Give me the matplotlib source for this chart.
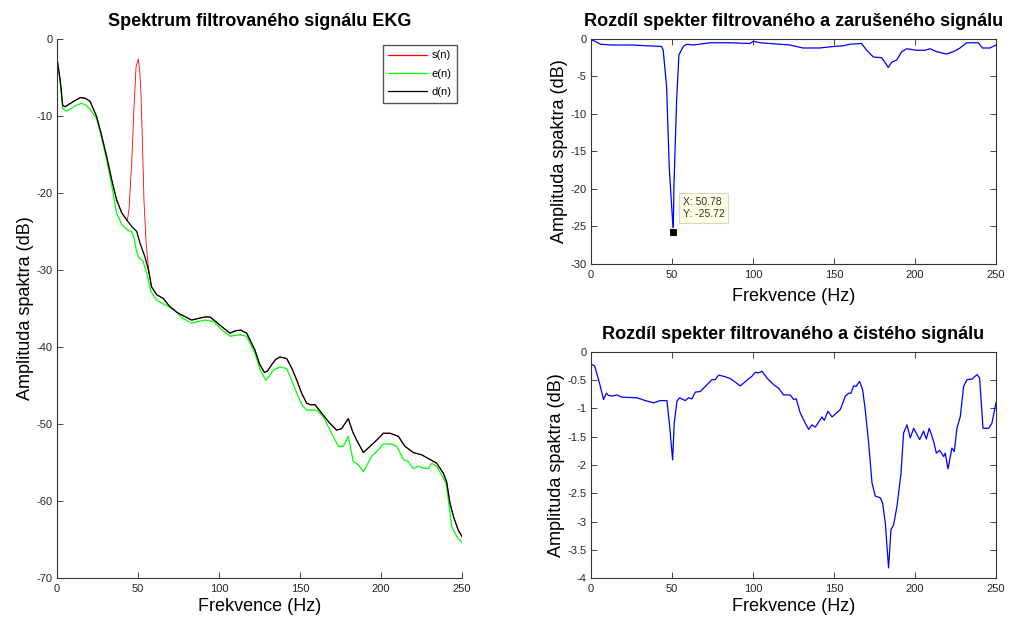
import matplotlib
matplotlib.use("Agg")
import matplotlib.pyplot as plt
import numpy as np

plt.rcParams['font.family'] = ['Liberation Sans', 'DejaVu Sans']
plt.rcParams['axes.unicode_minus'] = False

# --- spectrum of the filtered ECG signal (dB) ---
d_f = [0, 2, 3.5, 5, 8, 11, 14.6, 17.5, 20.4, 24.5, 27.5, 30.7, 33.8, 36.8, 40, 43.4,
       46, 49.2, 51.2, 54.3, 56.4, 58.4, 61.5, 65.6, 69.8, 74, 78.5, 83.1, 87, 91.4,
       94.5, 98, 102, 106.8, 110, 113.4, 117.1, 122.2, 125, 128, 130, 132.5, 135,
       137.7, 141.8, 145, 148, 151, 154.1, 156.5, 159.3, 163.4, 168, 172.6, 175.7,
       179.8, 182.5, 185, 189.1, 193.2, 197.3, 201.4, 205.6, 210.7, 214.8, 219.9,
       225.1, 230.2, 234.4, 238.5, 240.5, 242.6, 244.7, 247.7, 250]
d_db = [-2.5, -5.4, -8.6, -8.8, -8.4, -8.0, -7.6, -7.7, -8.1, -10.1, -12.5, -15.3,
        -18.3, -20.9, -22.6, -23.6, -24.3, -25.0, -26.5, -28.3, -30.0, -32.2, -33.2,
        -33.7, -34.8, -35.5, -36.0, -36.5, -36.3, -36.1, -36.1, -36.7, -37.4, -38.2,
        -37.9, -37.8, -38.2, -40.4, -42.2, -43.3, -43.1, -42.3, -41.6, -41.3, -41.5,
        -42.8, -44.3, -46.0, -47.3, -47.5, -47.5, -48.6, -49.8, -50.8, -50.6, -49.3,
        -51.0, -52.1, -53.7, -52.9, -52.1, -51.2, -51.2, -51.6, -52.9, -53.7, -54.0,
        -54.6, -55.1, -56.4, -57.5, -60.3, -62.0, -63.8, -64.6]

# --- spectrum of the clean ECG signal (dB) ---
e_f = [0, 2, 3.5, 6, 9, 12, 15.2, 18, 21, 24.5, 27.5, 30.7, 33.8, 36.8, 40, 43.4,
       46, 47.5, 49, 50.5, 53, 55.5, 58, 61.5, 65.6, 71.7, 77, 83.1, 87, 91.4, 96.6,
       102, 106.8, 113, 117, 122.2, 125.5, 128.8, 131, 133.5, 137.7, 141.8, 145, 149,
       151.5, 154.1, 160.3, 164.5, 169, 173.7, 176.8, 179.8, 182.9, 186, 189.1, 194.2,
       197.3, 201.4, 206.6, 209.7, 213.8, 216.9, 219.9, 223, 226.1, 229.2, 231.3,
       234.4, 237.4, 240.1, 241.6, 243.6, 246.7, 250]
e_db = [-2.5, -5.7, -9.0, -9.35, -9.0, -8.6, -8.35, -8.6, -9.3, -10.4, -12.8, -15.8,
        -19.0, -22.6, -24.1, -24.8, -25.0, -25.8, -27.5, -28.4, -28.8, -30.5, -32.8,
        -33.9, -34.4, -35.0, -36.2, -36.9, -36.7, -36.5, -36.7, -37.8, -38.6, -38.4,
        -38.6, -40.8, -43.0, -44.3, -43.8, -43.0, -42.6, -42.8, -44.4, -46.5, -47.6,
        -48.2, -48.2, -49.1, -51.0, -52.9, -52.9, -51.6, -54.9, -55.3, -56.2, -54.2,
        -53.6, -52.6, -52.6, -52.9, -54.6, -54.9, -55.8, -55.5, -55.7, -55.8, -55.1,
        -55.5, -56.6, -57.7, -59.9, -63.3, -64.6, -65.4]

# --- noisy signal: the 50 Hz hum peak, otherwise on top of d(n) ---
hum_f = [44.5, 46.1, 47.5, 48.8, 50.2, 51.2, 51.9, 52.8, 53.7, 55, 56.4]
hum_db = [-22.0, -16.1, -9.0, -3.6, -2.6, -4.5, -7.5, -14.0, -21.1, -26.5, -29.6]

# --- difference filtered - noisy (dB) ---
dn_f = [0, 2.5, 6, 12.8, 25, 43.6, 44.6, 46.7, 48.3, 50.78, 51.2, 52.9, 54.3, 57, 59,
        63.2, 73.5, 85.8, 98.1, 100.2, 104.3, 110.5, 122.8, 131, 141.3, 149.5, 155.7,
        159.8, 167, 170.2, 174.3, 179.4, 181.5, 183.5, 185.6, 188.7, 191.8, 194.9,
        201, 206.2, 209.3, 213.4, 219.5, 223.6, 227.8, 231.9, 239.1, 241.6, 246.3, 250]
dn_db = [-0.1, -0.3, -0.7, -0.8, -0.8, -1.0, -1.5, -6.4, -17.0, -25.72, -19.7, -8.1,
         -2.1, -1.0, -0.7, -0.8, -0.5, -0.5, -0.6, -0.3, -0.5, -0.6, -0.8, -1.2, -1.2,
         -1.0, -0.9, -0.7, -0.6, -1.5, -2.4, -2.5, -3.1, -3.8, -3.1, -2.8, -1.7, -1.3,
         -1.5, -1.5, -1.3, -1.7, -2.0, -1.7, -1.2, -0.5, -0.5, -1.2, -1.2, -0.8]
tip_f, tip_db = 50.78, -25.72

# --- difference filtered - clean (dB) ---
dc_f = [0.6, 2.3, 4.7, 7.8, 9.5, 10.9, 13, 16, 19.1, 28.4, 33.5, 38.7, 42.8, 46.9,
        48.6, 50.4, 51.4, 53.1, 54.7, 58.2, 60.3, 62.3, 64.4, 67.5, 71.6, 74.7, 76.7,
        78.8, 81.9, 86, 92.2, 96.3, 99.4, 101.4, 103.5, 105.6, 108.6, 112.8, 115.8,
        118.9, 123, 125.1, 126.7, 129.2, 132.3, 134.4, 136.4, 138.5, 142.6, 144,
        146.3, 148.8, 153.9, 157, 159.1, 160.5, 162.1, 163.6, 165.8, 167.7, 169.3,
        171.4, 173.5, 175.5, 178.6, 180, 181.7, 183.7, 185.2, 186.8, 188.9, 191.4,
        193, 195.1, 197.1, 199.2, 202.9, 205.3, 207, 208.8, 211.5, 213.2, 215.2,
        217.7, 218.7, 220.4, 222.8, 224.3, 225.9, 228, 230, 232.1, 235.2, 238.3,
        239.9, 242, 245.5, 247.5, 250]
dc_db = [-0.22, -0.25, -0.49, -0.84, -0.73, -0.77, -0.78, -0.76, -0.80, -0.81, -0.86,
         -0.90, -0.86, -0.86, -1.32, -1.91, -1.26, -0.87, -0.81, -0.86, -0.81, -0.83,
         -0.71, -0.70, -0.58, -0.49, -0.49, -0.41, -0.43, -0.47, -0.60, -0.50, -0.43,
         -0.36, -0.37, -0.34, -0.46, -0.58, -0.64, -0.76, -0.76, -0.84, -0.83, -1.08,
         -1.26, -1.37, -1.29, -1.33, -1.15, -1.21, -1.05, -1.15, -1.02, -0.78, -0.73,
         -0.73, -0.60, -0.61, -0.52, -0.67, -1.02, -1.61, -2.32, -2.55, -2.58, -2.67,
         -3.03, -3.82, -3.14, -3.06, -2.73, -2.14, -1.43, -1.29, -1.52, -1.35, -1.55,
         -1.40, -1.54, -1.35, -1.58, -1.79, -1.74, -1.85, -1.79, -2.07, -1.70, -1.76,
         -1.35, -1.14, -0.61, -0.49, -0.48, -0.40, -0.46, -1.35, -1.35, -1.26, -0.90]

d_f = np.array(d_f)
d_db = np.array(d_db)
s_f = np.concatenate([d_f[d_f <= 43.4], hum_f, d_f[d_f >= 58.4]])
s_db = np.concatenate([d_db[d_f <= 43.4], hum_db, d_db[d_f >= 58.4]])

TICK_FS = 8
LAB_FS = 13
TIT_FS = 13
tick_col = '#262626'


def style_axes(ax, boxed, xlabelpad):
    ax.tick_params(direction='in', length=4, width=0.6, labelsize=TICK_FS,
                   colors=tick_col, top=boxed, right=boxed)
    ax.tick_params(axis='x', pad=4)
    ax.tick_params(axis='y', pad=3)
    for side in ax.spines:
        ax.spines[side].set_linewidth(0.8)
        ax.spines[side].set_color('#333333')
    if not boxed:
        ax.spines['top'].set_visible(False)
        ax.spines['right'].set_visible(False)
    ax.set_xlim(0, 250)
    ax.set_xticks([0, 50, 100, 150, 200, 250])
    ax.set_xlabel('Frekvence (Hz)', fontsize=LAB_FS, labelpad=xlabelpad)
    ax.set_ylabel('Amplituda spaktra (dB)', fontsize=LAB_FS, labelpad=2)


fig = plt.figure(figsize=(10.29, 6.21), dpi=100, facecolor='white')

# left: spectra
ax1 = fig.add_axes([0.0554, 0.0692, 0.3936, 0.868])
ax1.plot(s_f, s_db, color='red', lw=0.6, label='s(n)')
ax1.plot(e_f, e_db, color=(0, 1, 0), lw=0.9, label='e(n)')
ax1.plot(d_f, d_db, color='black', lw=0.9, label='d(n)')
ax1.set_ylim(-70, 0)
ax1.set_yticks(np.arange(-70, 1, 10))
style_axes(ax1, boxed=False, xlabelpad=3)
ax1.set_title('Spektrum filtrovaného signálu EKG', fontsize=TIT_FS,
              fontweight='bold', pad=9)
leg = ax1.legend(loc='upper right', bbox_to_anchor=(0.988, 0.989), fontsize=8,
                 fancybox=False, edgecolor='#555555', framealpha=1,
                 handlelength=3.5, handletextpad=0.4, labelspacing=0.75,
                 borderpad=0.5, borderaxespad=0)
leg.get_frame().set_linewidth(1.0)
for h in leg.get_lines():
    h.set_linewidth(0.9)

# top right: filtered minus noisy
ax2 = fig.add_axes([0.5743, 0.5749, 0.3936, 0.3623])
ax2.plot(dn_f, dn_db, color='blue', lw=0.9)
ax2.set_ylim(-30, 0)
ax2.set_yticks(np.arange(-30, 1, 5))
style_axes(ax2, boxed=True, xlabelpad=6)
ax2.set_title('Rozdíl spekter filtrovaného a zarušeného signálu',
              fontsize=TIT_FS, fontweight='bold', pad=9)
ax2.plot([tip_f], [tip_db], marker='s', ms=6, color='black',
         markeredgecolor='#fffbe0', markeredgewidth=0.8, zorder=5)
ax2.annotate(f'X: {tip_f:.2f}\nY: {tip_db:.2f}', xy=(tip_f, tip_db),
             xytext=(7, 9), textcoords='offset points', fontsize=7.5,
             color='#333333', ha='left', va='bottom', linespacing=1.3,
             bbox=dict(boxstyle='square,pad=0.35', fc='#ffffe6',
                       ec='#d8d8c8', lw=0.8))

# bottom right: filtered minus clean
ax3 = fig.add_axes([0.5743, 0.0692, 0.3936, 0.364])
ax3.plot(dc_f, dc_db, color='blue', lw=0.9)
ax3.set_ylim(-4, 0)
ax3.set_yticks(np.arange(-4, 0.01, 0.5))
ax3.set_yticklabels(['-4', '-3.5', '-3', '-2.5', '-2', '-1.5', '-1', '-0.5', '0'])
style_axes(ax3, boxed=True, xlabelpad=3)
ax3.set_title('Rozdíl spekter filtrovaného a čistého signálu',
              fontsize=TIT_FS, fontweight='bold', pad=9)

fig.savefig('out.png', dpi=100, facecolor='white')
